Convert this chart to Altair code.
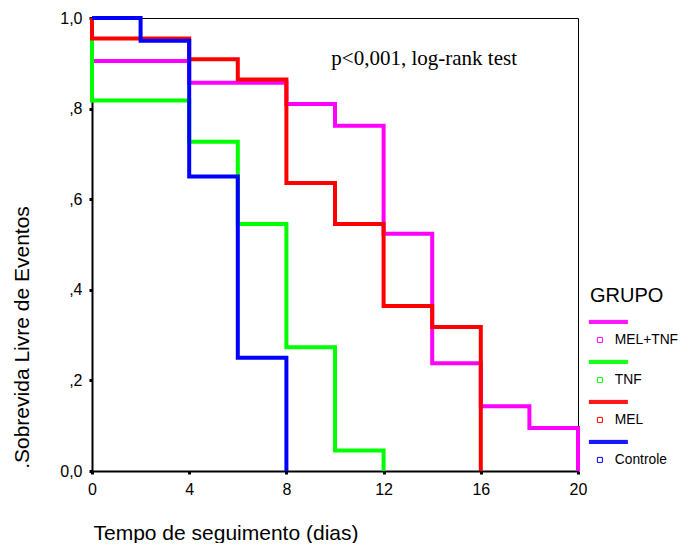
import altair as alt
import pandas as pd

# Kaplan-Meier step data (time in days, survival proportion)
grupos = ["MEL+TNF", "TNF", "MEL", "Controle"]
cores = ["#FF00FF", "#00FF00", "#FF0000", "#0000FF"]

t_meltnf = [0, 0, 4, 8, 10, 12, 14, 16, 18, 20]
s_meltnf = [1.0, 0.905, 0.857, 0.810, 0.762, 0.524, 0.238, 0.143, 0.095, 0.0]

t_tnf = [0, 0, 4, 6, 8, 10, 12]
s_tnf = [1.0, 0.818, 0.727, 0.545, 0.273, 0.045, 0.0]

t_mel = [0, 0, 4, 6, 8, 10, 12, 14, 16]
s_mel = [1.0, 0.955, 0.909, 0.864, 0.636, 0.545, 0.364, 0.318, 0.0]

t_ctrl = [0, 2, 4, 6, 8]
s_ctrl = [1.0, 0.95, 0.65, 0.25, 0.0]

series = {
    "MEL+TNF": (t_meltnf, s_meltnf),
    "TNF": (t_tnf, s_tnf),
    "MEL": (t_mel, s_mel),
    "Controle": (t_ctrl, s_ctrl),
}

rows = []
for g in grupos:
    ts, ss = series[g]
    for i, (t, s) in enumerate(zip(ts, ss)):
        rows.append({"GRUPO": g, "tempo": t, "surv": s, "ordem": i})
df = pd.DataFrame(rows)

nota_x = [13.67]
nota_y = [0.896]
nota_txt = ["p<0,001, log-rank test"]
df_nota = pd.DataFrame({"x": nota_x, "y": nota_y, "txt": nota_txt})

x_ticks = [0, 4, 8, 12, 16, 20]
y_ticks = [0, 0.2, 0.4, 0.6, 0.8, 1.0]

# legend symbol: thick line above, small hollow square below (stroked, 1px)
sym_path = ("M-11,-19.5h39 M-11,-18.5h39 M-11,-17.5h39 M-11,-16.5h39 "
            "M-2.5,-2.5h5v5h-5z")

x_enc = alt.X("tempo:Q",
              scale=alt.Scale(domain=[0, 20], nice=False),
              axis=alt.Axis(values=x_ticks, title="Tempo de seguimento (dias)",
                            titleX=1, titleY=68, titleAlign="left",
                            titleBaseline="alphabetic", labelPadding=7,
                            labelFlush=False))
y_enc = alt.Y("surv:Q",
              scale=alt.Scale(domain=[0, 1], nice=False),
              axis=alt.Axis(values=y_ticks, title=".Sobrevida Livre de Eventos",
                            labelExpr="datum.value == 1 ? '1,0' : (datum.value == 0 ? '0,0' : ',' + round(datum.value*10))",
                            titleX=-64, titleY=319, titleAlign="center",
                            titleBaseline="alphabetic", titleAngle=-90,
                            labelPadding=7, labelFlush=False))
color_enc = alt.Color("GRUPO:N",
                      scale=alt.Scale(domain=grupos, range=cores),
                      legend=alt.Legend(title="GRUPO", orient="none",
                                        legendX=498, legendY=268,
                                        symbolType=sym_path, symbolSize=4,
                                        symbolStrokeWidth=1,
                                        symbolFillColor="transparent",
                                        symbolOffset=3,
                                        labelOffset=8, rowPadding=11,
                                        titlePadding=27, padding=0,
                                        labelFont="Liberation Sans",
                                        labelFontSize=13.8,
                                        labelColor="black",
                                        titleFont="Liberation Sans", titleFontSize=20,
                                        titleFontWeight="normal", titleColor="black"))

layers = []
for g in grupos:
    layers.append(
        alt.Chart(df).transform_filter(alt.datum.GRUPO == g)
        .mark_line(interpolate="step-after", strokeWidth=4)
        .encode(x=x_enc, y=y_enc, color=color_enc, order="ordem:Q")
    )

nota = alt.Chart(df_nota).mark_text(
    font="Liberation Serif", fontSize=21, align="center",
    baseline="alphabetic", color="black"
).encode(x="x:Q", y="y:Q", text="txt:N")

chart = alt.layer(*layers, nota).properties(
    width=486, height=453,
    autosize=alt.AutoSizeParams(type="none"),
    padding={"left": 84, "top": 10, "right": 103, "bottom": 72},
    background="white",
).configure_view(
    stroke="black", strokeWidth=1
).configure_axis(
    grid=False, domainColor="black", domainWidth=2,
    tickColor="black", tickSize=3, tickWidth=3,
    labelFont="Liberation Sans", labelFontSize=16, labelColor="black",
    titleFont="Liberation Sans", titleFontSize=21, titleFontWeight="normal",
    titleColor="black"
)

chart.save("out.html", embed_options={"renderer": "svg", "actions": False})
